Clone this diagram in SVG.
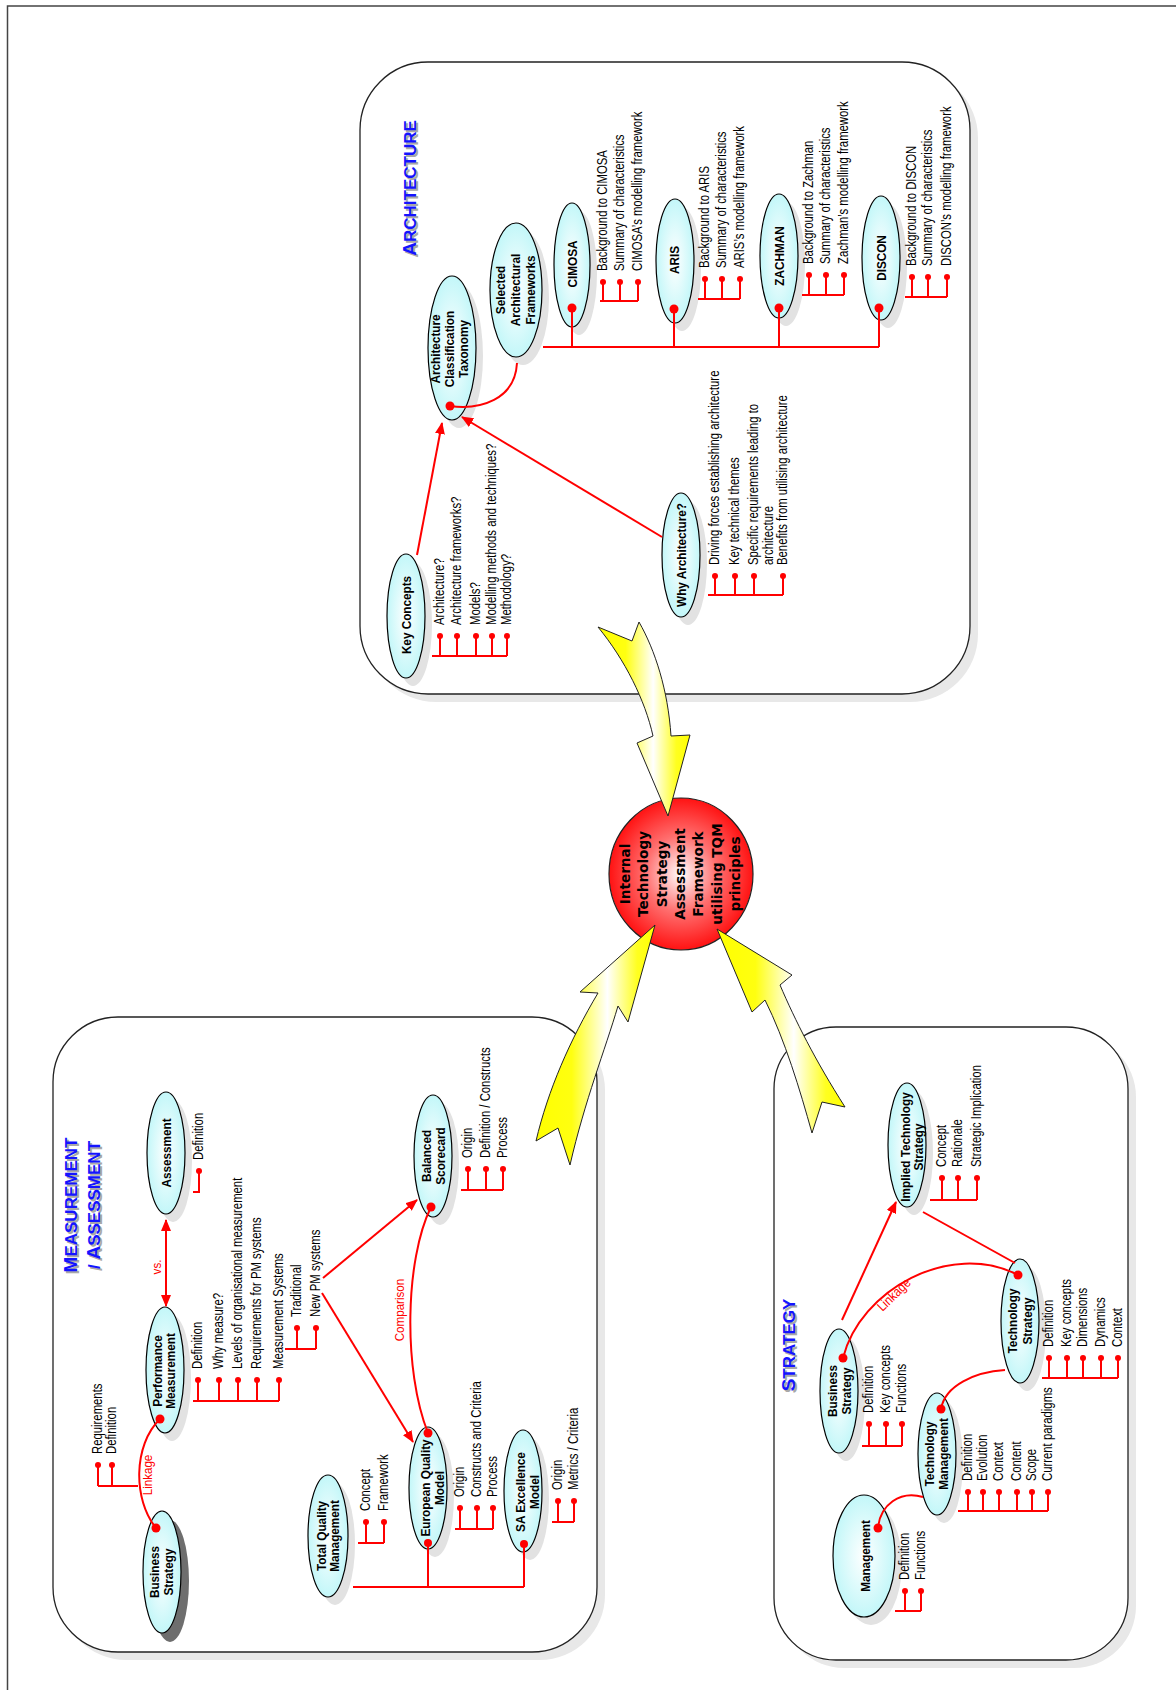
<svg xmlns="http://www.w3.org/2000/svg" width="1176" height="1690" viewBox="0 0 1176 1690">
<defs>
  <radialGradient id="cy" cx="50%" cy="50%" r="55%">
    <stop offset="0" stop-color="#ffffff"/>
    <stop offset="1" stop-color="#bdf6f8"/>
  </radialGradient>
  <radialGradient id="hub" cx="50%" cy="50%" r="55%">
    <stop offset="0" stop-color="#ffffff"/>
    <stop offset="0.45" stop-color="#ff7070"/>
    <stop offset="1" stop-color="#ff0000"/>
  </radialGradient>
  <linearGradient id="yel" x1="0" y1="0" x2="1" y2="0">
    <stop offset="0" stop-color="#ffff00"/>
    <stop offset="0.3" stop-color="#ffff10"/>
    <stop offset="0.6" stop-color="#ffffff"/>
    <stop offset="0.85" stop-color="#ffff20"/>
    <stop offset="1" stop-color="#ffff00"/>
  </linearGradient>
  <marker id="ah" viewBox="0 0 12 10" refX="11" refY="5" markerWidth="12" markerHeight="10" markerUnits="userSpaceOnUse" orient="auto-start-reverse">
    <path d="M0,0 L12,5 L0,10 z" fill="#ff0000"/>
  </marker>
  <style>
    .frame { fill: none; stroke: #444; stroke-width: 1.5 }
    .panel { fill: #ffffff; stroke: #222; stroke-width: 1.3 }
    .pshade { fill: #e8e8e8 }
    .el { fill: url(#cy); stroke: #000; stroke-width: 1.2 }
    .sh { fill: #e2e2e2 }
    .shd { fill: #6e6e6e }
    .rl { fill: none; stroke: #ff0000; stroke-width: 2 }
    .ar { fill: none; stroke: #ff0000; stroke-width: 2; marker-end: url(#ah) }
    .dot { fill: #ff0000 }
    .nd { fill: #ff0000 }
    .lb { font-family: "Liberation Sans", Arial, sans-serif; font-weight: bold; font-size: 13.5px; text-anchor: middle; fill: #000 }
    .it { font-family: "Liberation Sans", Arial, sans-serif; font-size: 14px; fill: #000 }
    .rt { font-family: "Liberation Sans", Arial, sans-serif; font-size: 13.5px; fill: #ff0000; text-anchor: middle }
    .tt { font-family: "Liberation Sans", Arial, sans-serif; font-weight: bold; font-size: 17px; text-anchor: middle; fill: #1414ff }
    .tts { fill: #a8a8a8 }
    .big { font-size: 19px }
    .hubt { font-family: "DejaVu Sans", Verdana, sans-serif; font-weight: bold; font-size: 13.6px; text-anchor: middle; fill: #000 }
    .bolt { fill: url(#yel); stroke: #222; stroke-width: 1 }
  </style>
</defs>

<rect width="1176" height="1690" fill="#ffffff"/>
<path class="frame" d="M7.5,1690 V6 H1176"/>

<!-- panel backgrounds -->
<g id="panel-architecture">
  <rect class="pshade" x="368" y="70" width="610" height="632" rx="68"/>
  <rect class="panel" x="360" y="62" width="610" height="632" rx="68"/>
  <text class="tt tts" transform="translate(418,190) rotate(-90)"><tspan class="big">A</tspan>RCHITECTURE</text>
  <text class="tt" transform="translate(416,188) rotate(-90)"><tspan class="big">A</tspan>RCHITECTURE</text>
</g>
<g id="panel-measurement">
  <rect class="pshade" x="61" y="1025" width="544" height="635" rx="65"/>
  <rect class="panel" x="53" y="1017" width="544" height="635" rx="65"/>
  <text class="tt tts" transform="translate(79,1207) rotate(-90)"><tspan class="big">M</tspan>EASUREMENT</text>
  <text class="tt" transform="translate(77,1205) rotate(-90)"><tspan class="big">M</tspan>EASUREMENT</text>
  <text class="tt tts" transform="translate(102,1207) rotate(-90)">/ <tspan class="big">A</tspan>SSESSMENT</text>
  <text class="tt" transform="translate(100,1205) rotate(-90)">/ <tspan class="big">A</tspan>SSESSMENT</text>
</g>
<g id="panel-strategy">
  <rect class="pshade" x="782" y="1035" width="354" height="633" rx="62"/>
  <rect class="panel" x="774" y="1027" width="354" height="633" rx="62"/>
  <text class="tt tts" transform="translate(797,1347) rotate(-90)"><tspan class="big">S</tspan>TRATEGY</text>
  <text class="tt" transform="translate(795,1345) rotate(-90)"><tspan class="big">S</tspan>TRATEGY</text>
</g>

<!-- hub -->
<g id="hub">
  <ellipse cx="681" cy="874" rx="72" ry="76" fill="url(#hub)" stroke="#222" stroke-width="1.2"/>
  <text class="hubt" transform="translate(630,874) rotate(-90)">Internal</text>
  <text class="hubt" transform="translate(648,874) rotate(-90)">Technology</text>
  <text class="hubt" transform="translate(667,874) rotate(-90)">Strategy</text>
  <text class="hubt" transform="translate(685,874) rotate(-90)">Assessment</text>
  <text class="hubt" transform="translate(703,874) rotate(-90)">Framework</text>
  <text class="hubt" transform="translate(722,874) rotate(-90)">utilising TQM</text>
  <text class="hubt" transform="translate(740,874) rotate(-90)">principles</text>
</g>

<!-- big block arrows into the hub -->
<g id="bolts">
  <path class="bolt" d="M598,627 L632,641 L639,622 C655,650 668,690 671,736 L690,735 L668,816 L637,743 L653,736 C645,700 625,660 598,627 Z"/>
  <path class="bolt" d="M655,925 L628,1022 L618,1006 C605,1050 585,1100 570,1165 L558,1128 L536,1141 C548,1090 570,1040 598,993 L580,992 Z"/>
  <path class="bolt" d="M717,929 L792,975 L780,985 C795,1020 815,1060 845,1107 L822,1102 L812,1133 C800,1090 785,1040 765,1000 L752,1012 Z"/>
</g>

<!-- architecture nodes -->
<g id="node-act">
  <ellipse class="sh" cx="459" cy="356" rx="24" ry="72"/>
  <ellipse class="el" cx="452" cy="348" rx="24" ry="72"/>
  <text class="lb" transform="matrix(0 -0.87 1 0 440 349)">Architecture</text>
  <text class="lb" transform="matrix(0 -0.87 1 0 454 349)">Classification</text>
  <text class="lb" transform="matrix(0 -0.87 1 0 468 349)">Taxonomy</text>
  <circle class="nd" cx="450" cy="406" r="4.5"/>
</g>
<g id="node-saf">
  <ellipse class="sh" cx="523" cy="298" rx="26" ry="67"/>
  <ellipse class="el" cx="516" cy="290" rx="26" ry="67"/>
  <text class="lb" transform="matrix(0 -0.87 1 0 505 290)">Selected</text>
  <text class="lb" transform="matrix(0 -0.87 1 0 520 290)">Architectural</text>
  <text class="lb" transform="matrix(0 -0.87 1 0 535 290)">Frameworks</text>
</g>
<g id="node-cimosa">
  <ellipse class="sh" cx="579" cy="273" rx="18" ry="62"/>
  <ellipse class="el" cx="572" cy="265" rx="18" ry="62"/>
  <text class="lb" transform="matrix(0 -0.87 1 0 577 264)">CIMOSA</text>
  <circle class="nd" cx="572" cy="308" r="4.5"/>
  <g class="dot"><circle cx="603" cy="282" r="3"/><circle cx="620" cy="282" r="3"/><circle cx="638" cy="282" r="3"/></g>
  <text class="it" transform="matrix(0 -0.81 1 0 607 271)">Background to CIMOSA</text>
  <text class="it" transform="matrix(0 -0.81 1 0 624 271)">Summary of characteristics</text>
  <text class="it" transform="matrix(0 -0.81 1 0 642 271)">CIMOSA’s modelling framework</text>
</g>
<g id="node-aris">
  <ellipse class="sh" cx="682" cy="269" rx="19" ry="62"/>
  <ellipse class="el" cx="675" cy="261" rx="19" ry="62"/>
  <text class="lb" transform="matrix(0 -0.87 1 0 679 260)">ARIS</text>
  <circle class="nd" cx="674" cy="309" r="4.5"/>
  <g class="dot"><circle cx="705" cy="279" r="3"/><circle cx="722" cy="279" r="3"/><circle cx="740" cy="279" r="3"/></g>
  <text class="it" transform="matrix(0 -0.81 1 0 709 268)">Background to ARIS</text>
  <text class="it" transform="matrix(0 -0.81 1 0 726 268)">Summary of characteristics</text>
  <text class="it" transform="matrix(0 -0.81 1 0 744 268)">ARIS’s modelling framework</text>
</g>
<g id="node-zachman">
  <ellipse class="sh" cx="786" cy="264" rx="19" ry="62"/>
  <ellipse class="el" cx="779" cy="256" rx="19" ry="62"/>
  <text class="lb" transform="matrix(0 -0.87 1 0 784 256)">ZACHMAN</text>
  <circle class="nd" cx="779" cy="308" r="4.5"/>
  <g class="dot"><circle cx="809" cy="275" r="3"/><circle cx="826" cy="275" r="3"/><circle cx="844" cy="275" r="3"/></g>
  <text class="it" transform="matrix(0 -0.81 1 0 813 264)">Background to Zachman</text>
  <text class="it" transform="matrix(0 -0.81 1 0 830 264)">Summary of characteristics</text>
  <text class="it" transform="matrix(0 -0.81 1 0 848 264)">Zachman’s modelling framework</text>
</g>
<g id="node-discon">
  <ellipse class="sh" cx="888" cy="266" rx="19" ry="62"/>
  <ellipse class="el" cx="881" cy="258" rx="19" ry="62"/>
  <text class="lb" transform="matrix(0 -0.87 1 0 886 258)">DISCON</text>
  <circle class="nd" cx="879" cy="308" r="4.5"/>
  <g class="dot"><circle cx="912" cy="277" r="3"/><circle cx="928" cy="277" r="3"/><circle cx="947" cy="277" r="3"/></g>
  <text class="it" transform="matrix(0 -0.81 1 0 916 266)">Background to DISCON</text>
  <text class="it" transform="matrix(0 -0.81 1 0 932 266)">Summary of characteristics</text>
  <text class="it" transform="matrix(0 -0.81 1 0 951 266)">DISCON’s modelling framework</text>
</g>
<g id="node-keyconcepts">
  <ellipse class="sh" cx="413" cy="624" rx="19" ry="62"/>
  <ellipse class="el" cx="406" cy="616" rx="19" ry="62"/>
  <text class="lb" transform="matrix(0 -0.87 1 0 411 615)">Key Concepts</text>
  <g class="dot"><circle cx="440" cy="636" r="3"/><circle cx="457" cy="636" r="3"/><circle cx="476" cy="636" r="3"/><circle cx="492" cy="636" r="3"/><circle cx="507" cy="636" r="3"/></g>
  <text class="it" transform="matrix(0 -0.81 1 0 444 625)">Architecture?</text>
  <text class="it" transform="matrix(0 -0.81 1 0 461 625)">Architecture frameworks?</text>
  <text class="it" transform="matrix(0 -0.81 1 0 480 625)">Models?</text>
  <text class="it" transform="matrix(0 -0.81 1 0 496 625)">Modelling methods and techniques?</text>
  <text class="it" transform="matrix(0 -0.81 1 0 511 625)">Methodology?</text>
</g>
<g id="node-why">
  <ellipse class="sh" cx="688" cy="563" rx="19" ry="62"/>
  <ellipse class="el" cx="681" cy="555" rx="19" ry="62"/>
  <text class="lb" transform="matrix(0 -0.87 1 0 686 555)">Why Architecture?</text>
  <g class="dot"><circle cx="715" cy="576" r="3"/><circle cx="735" cy="576" r="3"/><circle cx="754" cy="576" r="3"/><circle cx="783" cy="576" r="3"/></g>
  <text class="it" transform="matrix(0 -0.81 1 0 719 565)">Driving forces establishing architecture</text>
  <text class="it" transform="matrix(0 -0.81 1 0 739 565)">Key technical themes</text>
  <text class="it" transform="matrix(0 -0.81 1 0 758 565)">Specific requirements leading to</text>
  <text class="it" transform="matrix(0 -0.81 1 0 773 565)">architecture</text>
  <text class="it" transform="matrix(0 -0.81 1 0 787 565)">Benefits from utilising architecture</text>
</g>

<!-- measurement / assessment nodes -->
<g id="node-assessment">
  <ellipse class="sh" cx="173" cy="1161" rx="19" ry="61"/>
  <ellipse class="el" cx="166" cy="1153" rx="19" ry="61"/>
  <text class="lb" transform="matrix(0 -0.87 1 0 171 1153)">Assessment</text>
  <circle class="dot" cx="199" cy="1171" r="3"/>
  <text class="it" transform="matrix(0 -0.81 1 0 203 1160)">Definition</text>
</g>
<g id="node-pm">
  <ellipse class="sh" cx="172" cy="1378" rx="19" ry="63"/>
  <ellipse class="el" cx="165" cy="1370" rx="19" ry="63"/>
  <text class="lb" transform="matrix(0 -0.87 1 0 162 1371)">Performance</text>
  <text class="lb" transform="matrix(0 -0.87 1 0 175 1371)">Measurement</text>
  <circle class="nd" cx="160" cy="1419" r="4.5"/>
  <g class="dot"><circle cx="198" cy="1380" r="3"/><circle cx="219" cy="1380" r="3"/><circle cx="238" cy="1380" r="3"/><circle cx="257" cy="1380" r="3"/><circle cx="279" cy="1380" r="3"/><circle cx="297" cy="1328" r="3"/><circle cx="316" cy="1328" r="3"/></g>
  <text class="it" transform="matrix(0 -0.81 1 0 202 1369)">Definition</text>
  <text class="it" transform="matrix(0 -0.81 1 0 223 1369)">Why measure?</text>
  <text class="it" transform="matrix(0 -0.81 1 0 242 1369)">Levels of organisational measurement</text>
  <text class="it" transform="matrix(0 -0.81 1 0 261 1369)">Requirements for PM systems</text>
  <text class="it" transform="matrix(0 -0.81 1 0 283 1369)">Measurement Systems</text>
  <text class="it" transform="matrix(0 -0.81 1 0 301 1317)">Traditional</text>
  <text class="it" transform="matrix(0 -0.81 1 0 320 1317)">New PM systems</text>
</g>
<g id="node-bsc">
  <ellipse class="sh" cx="440" cy="1164" rx="19" ry="61"/>
  <ellipse class="el" cx="433" cy="1156" rx="19" ry="61"/>
  <text class="lb" transform="matrix(0 -0.87 1 0 431 1156)">Balanced</text>
  <text class="lb" transform="matrix(0 -0.87 1 0 445 1156)">Scorecard</text>
  <circle class="nd" cx="431" cy="1207" r="4.5"/>
  <g class="dot"><circle cx="468" cy="1169" r="3"/><circle cx="486" cy="1169" r="3"/><circle cx="503" cy="1169" r="3"/></g>
  <text class="it" transform="matrix(0 -0.81 1 0 472 1158)">Origin</text>
  <text class="it" transform="matrix(0 -0.81 1 0 490 1158)">Definition / Constructs</text>
  <text class="it" transform="matrix(0 -0.81 1 0 507 1158)">Process</text>
</g>
<g id="node-eqm">
  <ellipse class="sh" cx="435" cy="1496" rx="19" ry="61"/>
  <ellipse class="el" cx="428" cy="1488" rx="19" ry="61"/>
  <text class="lb" transform="matrix(0 -0.87 1 0 430 1488)">European Quality</text>
  <text class="lb" transform="matrix(0 -0.87 1 0 444 1488)">Model</text>
  <circle class="nd" cx="428" cy="1433" r="4.5"/>
  <circle class="nd" cx="428" cy="1543" r="4"/>
  <g class="dot"><circle cx="460" cy="1508" r="3"/><circle cx="477" cy="1508" r="3"/><circle cx="493" cy="1508" r="3"/></g>
  <text class="it" transform="matrix(0 -0.81 1 0 464 1497)">Origin</text>
  <text class="it" transform="matrix(0 -0.81 1 0 481 1497)">Constructs and Criteria</text>
  <text class="it" transform="matrix(0 -0.81 1 0 497 1497)">Process</text>
</g>
<g id="node-saem">
  <ellipse class="sh" cx="530" cy="1499" rx="19" ry="61"/>
  <ellipse class="el" cx="523" cy="1491" rx="19" ry="61"/>
  <text class="lb" transform="matrix(0 -0.87 1 0 525 1492)">SA Excellence</text>
  <text class="lb" transform="matrix(0 -0.87 1 0 539 1492)">Model</text>
  <circle class="nd" cx="524" cy="1544" r="4"/>
  <g class="dot"><circle cx="558" cy="1501" r="3"/><circle cx="574" cy="1501" r="3"/></g>
  <text class="it" transform="matrix(0 -0.81 1 0 562 1490)">Origin</text>
  <text class="it" transform="matrix(0 -0.81 1 0 578 1490)">Metrics / Criteria</text>
</g>
<g id="node-tqm">
  <ellipse class="sh" cx="335" cy="1544" rx="20" ry="61"/>
  <ellipse class="el" cx="328" cy="1536" rx="20" ry="61"/>
  <text class="lb" transform="matrix(0 -0.87 1 0 326 1536)">Total Quality</text>
  <text class="lb" transform="matrix(0 -0.87 1 0 339 1536)">Management</text>
  <g class="dot"><circle cx="366" cy="1522" r="3"/><circle cx="384" cy="1522" r="3"/></g>
  <text class="it" transform="matrix(0 -0.81 1 0 370 1511)">Concept</text>
  <text class="it" transform="matrix(0 -0.81 1 0 388 1511)">Framework</text>
</g>
<g id="node-bs-measure">
  <ellipse class="shd" cx="170" cy="1581" rx="19" ry="61"/>
  <ellipse class="el" cx="162" cy="1572" rx="19" ry="61"/>
  <text class="lb" transform="matrix(0 -0.87 1 0 159 1572)">Business</text>
  <text class="lb" transform="matrix(0 -0.87 1 0 173 1572)">Strategy</text>
  <circle class="nd" cx="156" cy="1528" r="4.5"/>
  <g class="dot"><circle cx="98" cy="1465" r="3"/><circle cx="112" cy="1465" r="3"/></g>
  <text class="it" transform="matrix(0 -0.81 1 0 102 1454)">Requirements</text>
  <text class="it" transform="matrix(0 -0.81 1 0 116 1454)">Definition</text>
</g>

<!-- strategy nodes -->
<g id="node-bs-strategy">
  <ellipse class="sh" cx="846" cy="1399" rx="19" ry="62"/>
  <ellipse class="el" cx="839" cy="1391" rx="19" ry="62"/>
  <text class="lb" transform="matrix(0 -0.87 1 0 837 1391)">Business</text>
  <text class="lb" transform="matrix(0 -0.87 1 0 851 1391)">Strategy</text>
  <circle class="nd" cx="843" cy="1358" r="4.5"/>
  <g class="dot"><circle cx="869" cy="1424" r="3"/><circle cx="886" cy="1424" r="3"/><circle cx="902" cy="1424" r="3"/></g>
  <text class="it" transform="matrix(0 -0.81 1 0 873 1413)">Definition</text>
  <text class="it" transform="matrix(0 -0.81 1 0 890 1413)">Key concepts</text>
  <text class="it" transform="matrix(0 -0.81 1 0 906 1413)">Functions</text>
</g>
<g id="node-its">
  <ellipse class="sh" cx="914" cy="1153" rx="19" ry="62"/>
  <ellipse class="el" cx="907" cy="1145" rx="19" ry="62"/>
  <text class="lb" transform="matrix(0 -0.87 1 0 910 1147)">Implied Technology</text>
  <text class="lb" transform="matrix(0 -0.87 1 0 923 1147)">Strategy</text>
  <g class="dot"><circle cx="942" cy="1178" r="3"/><circle cx="958" cy="1178" r="3"/><circle cx="977" cy="1178" r="3"/></g>
  <text class="it" transform="matrix(0 -0.81 1 0 946 1167)">Concept</text>
  <text class="it" transform="matrix(0 -0.81 1 0 962 1167)">Rationale</text>
  <text class="it" transform="matrix(0 -0.81 1 0 981 1167)">Strategic Implication</text>
</g>
<g id="node-ts">
  <ellipse class="sh" cx="1027" cy="1329" rx="19" ry="62"/>
  <ellipse class="el" cx="1020" cy="1321" rx="19" ry="62"/>
  <text class="lb" transform="matrix(0 -0.87 1 0 1017 1321)">Technology</text>
  <text class="lb" transform="matrix(0 -0.87 1 0 1032 1321)">Strategy</text>
  <circle class="nd" cx="1018" cy="1275" r="4.5"/>
  <g class="dot"><circle cx="1049" cy="1358" r="3"/><circle cx="1067" cy="1358" r="3"/><circle cx="1083" cy="1358" r="3"/><circle cx="1101" cy="1358" r="3"/><circle cx="1118" cy="1358" r="3"/></g>
  <text class="it" transform="matrix(0 -0.81 1 0 1053 1347)">Definition</text>
  <text class="it" transform="matrix(0 -0.81 1 0 1071 1347)">Key concepts</text>
  <text class="it" transform="matrix(0 -0.81 1 0 1087 1347)">Dimensions</text>
  <text class="it" transform="matrix(0 -0.81 1 0 1105 1347)">Dynamics</text>
  <text class="it" transform="matrix(0 -0.81 1 0 1122 1347)">Context</text>
</g>
<g id="node-tm">
  <ellipse class="sh" cx="944" cy="1462" rx="19" ry="61"/>
  <ellipse class="el" cx="937" cy="1454" rx="19" ry="61"/>
  <text class="lb" transform="matrix(0 -0.87 1 0 934 1454)">Technology</text>
  <text class="lb" transform="matrix(0 -0.87 1 0 948 1454)">Management</text>
  <circle class="nd" cx="941" cy="1409" r="4.5"/>
  <g class="dot"><circle cx="968" cy="1492" r="3"/><circle cx="983" cy="1492" r="3"/><circle cx="999" cy="1492" r="3"/><circle cx="1017" cy="1492" r="3"/><circle cx="1032" cy="1492" r="3"/><circle cx="1048" cy="1492" r="3"/></g>
  <text class="it" transform="matrix(0 -0.81 1 0 972 1481)">Definition</text>
  <text class="it" transform="matrix(0 -0.81 1 0 987 1481)">Evolution</text>
  <text class="it" transform="matrix(0 -0.81 1 0 1003 1481)">Context</text>
  <text class="it" transform="matrix(0 -0.81 1 0 1021 1481)">Content</text>
  <text class="it" transform="matrix(0 -0.81 1 0 1036 1481)">Scope</text>
  <text class="it" transform="matrix(0 -0.81 1 0 1052 1481)">Current paradigms</text>
</g>
<g id="node-management">
  <ellipse class="sh" cx="871" cy="1564" rx="31" ry="61"/>
  <ellipse class="el" cx="864" cy="1556" rx="31" ry="61"/>
  <text class="lb" transform="matrix(0 -0.87 1 0 870 1556)">Management</text>
  <circle class="nd" cx="878" cy="1528" r="4.5"/>
  <g class="dot"><circle cx="905" cy="1591" r="3"/><circle cx="921" cy="1591" r="3"/></g>
  <text class="it" transform="matrix(0 -0.81 1 0 909 1580)">Definition</text>
  <text class="it" transform="matrix(0 -0.81 1 0 925 1580)">Functions</text>
</g>

<!-- connectors, drawn over the nodes so the stems from the node dots stay visible -->
<g id="connectors">
  <!-- architecture -->
  <path class="rl" d="M450,406 C480,410 515,400 517,363"/>
  <path class="rl" d="M543,347 H879 M572,308 V347 M674,309 V347 M779,308 V347 M879,308 V347"/>
  <path class="ar" d="M417,555 L442,423"/>
  <path class="ar" d="M662,537 L462,417"/>
  <path class="rl" d="M600,301 H638 M603,301 V282 M620,301 V282 M638,301 V282"/>
  <path class="rl" d="M698,299 H740 M705,299 V279 M722,299 V279 M740,299 V279"/>
  <path class="rl" d="M802,295 H844 M809,295 V275 M826,295 V275 M844,295 V275"/>
  <path class="rl" d="M905,297 H947 M912,297 V277 M928,297 V277 M947,297 V277"/>
  <path class="rl" d="M432,656 H507 M440,656 V636 M457,656 V636 M476,656 V636 M492,656 V636 M507,656 V636"/>
  <path class="rl" d="M708,595 H783 M715,595 V576 M735,595 V576 M754,595 V576 M783,595 V576"/>
  <!-- measurement / assessment -->
  <path class="rl" d="M193,1192 H199 V1171"/>
  <path class="ar" d="M166,1220 V1306" style="marker-start:url(#ah)"/>
  <path class="rl" d="M193,1401 H279 M198,1401 V1380 M219,1401 V1380 M238,1401 V1380 M257,1401 V1380 M279,1401 V1380"/>
  <path class="rl" d="M285,1349 H316 M297,1349 V1328 M316,1349 V1328"/>
  <path class="ar" d="M323,1278 L417,1200"/>
  <path class="ar" d="M322,1293 L413,1442"/>
  <path class="rl" d="M461,1190 H503 M468,1190 V1169 M486,1190 V1169 M503,1190 V1169"/>
  <path class="rl" d="M431,1207 C405,1260 403,1370 428,1433"/>
  <path class="rl" d="M455,1529 H493 M460,1529 V1508 M477,1529 V1508 M493,1529 V1508"/>
  <path class="rl" d="M552,1522 H574 M558,1522 V1501 M574,1522 V1501"/>
  <path class="rl" d="M358,1543 H384 M366,1543 V1522 M384,1543 V1522"/>
  <path class="rl" d="M353,1587 H524 M428,1543 V1587 M524,1544 V1587"/>
  <path class="rl" d="M156,1528 C133,1500 133,1445 160,1419"/>
  <path class="rl" d="M98,1486 H138 M98,1486 V1465 M112,1486 V1465"/>
  <!-- strategy -->
  <path class="ar" d="M842,1320 L896,1202"/>
  <path class="rl" d="M843,1358 C860,1290 950,1240 1018,1275"/>
  <path class="rl" d="M862,1446 H902 M869,1446 V1424 M886,1446 V1424 M902,1446 V1424"/>
  <path class="rl" d="M930,1200 H977 M942,1200 V1178 M958,1200 V1178 M977,1200 V1178"/>
  <path class="rl" d="M923,1212 L1015,1263"/>
  <path class="rl" d="M1042,1378 H1118 M1049,1378 V1358 M1067,1378 V1358 M1083,1378 V1358 M1101,1378 V1358 M1118,1378 V1358"/>
  <path class="rl" d="M1005,1370 C975,1372 945,1385 941,1409"/>
  <path class="rl" d="M958,1511 H1048 M968,1511 V1492 M983,1511 V1492 M999,1511 V1492 M1017,1511 V1492 M1032,1511 V1492 M1048,1511 V1492"/>
  <path class="rl" d="M923,1497 C900,1490 880,1505 878,1528"/>
  <path class="rl" d="M895,1611 H921 M905,1611 V1591 M921,1611 V1591"/>
  <!-- connector labels -->
  <text class="rt" transform="matrix(0 -0.86 1 0 152 1475)">Linkage</text>
  <text class="rt" transform="matrix(0 -0.86 1 0 404 1310)">Comparison</text>
  <text class="rt" transform="matrix(0 -0.86 1 0 161 1267)">vs.</text>
  <text class="rt" transform="translate(897,1298) rotate(-44) scale(0.86,1)">Linkage</text>
</g>
</svg>
